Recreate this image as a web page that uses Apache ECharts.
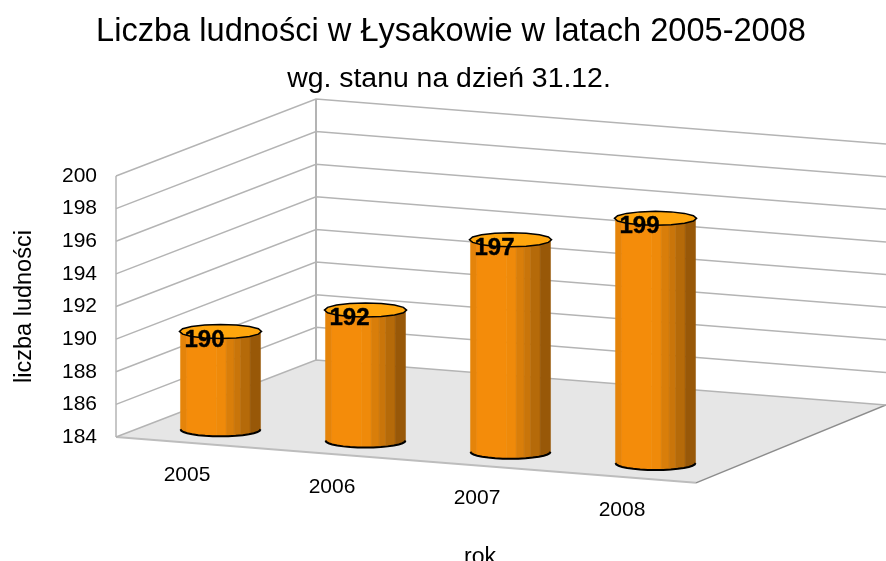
<!DOCTYPE html>
<html>
<head>
<meta charset="utf-8">
<style>html,body{margin:0;padding:0;background:#fff}#c{width:886px;height:561px}</style>
<script src="https://cdn.jsdelivr.net/npm/echarts@6/dist/echarts.min.js"></script>
</head>
<body>
<div id="c"></div>
<script>
const years = ['2005', '2006', '2007', '2008'];
const population = [190, 192, 197, 199];
const yTicks = [184, 186, 188, 190, 192, 194, 196, 198, 200];
const titleText = 'Liczba ludności w Łysakowie w latach 2005-2008';
const subtitleText = 'wg. stanu na dzień 31.12.';
const yName = 'liczba ludności';
const xName = 'rok';
const FONT = '"Liberation Sans", Arial, sans-serif';

// oblique projection settings
const SLOPE = 0.0775, FLOOR_SLOPE = 0.079, LABEL_SLOPE = 0.08, DEPTH_X = 200, DEPTH_Y = 77, BACK_RIGHT_X = 190, BAR_DX = 32, BAR_DY = 13.3;
const RX_RATIO = 0.276, RY = 7, GRID = {left: 116, top: 176, width: 580, height: 261, outerBoundsMode: 'none'};
const GREY = '#b4b4b4';
const stripes = [[0, .08, '#e5840a'], [.08, .45, '#f48c0a'], [.45, .57, '#ef8a0a'], [.57, .67, '#d97e0a'],
  [.67, .75, '#c9750a'], [.75, .87, '#b56a09'], [.87, 1, '#985808']];

const chart = echarts.init(document.getElementById('c'), null, {renderer: 'canvas'});

function ellipsePts(cx, cy, rx, ry, from, to, n) {
  const pts = [];
  for (let k = 0; k <= n; k++) {
    const a = from + (to - from) * k / n;
    pts.push([cx + rx * Math.cos(a), cy + ry * Math.sin(a)]);
  }
  return pts;
}
function backRight(y0) {
  const dx = GRID.width - DEPTH_X + BACK_RIGHT_X;
  return [GRID.left + DEPTH_X + dx, y0 - DEPTH_Y + dx * FLOOR_SLOPE];
}

const renderWall = (params, api) => {
  const v = api.value(1);
  const y0 = api.coord([0, v])[1];
  const l = GRID.left;
  const bl = [l + DEPTH_X, y0 - DEPTH_Y];
  return {type: 'group', children: [
    {type: 'polyline', shape: {points: [[l, y0], bl, backRight(y0)]}, style: {stroke: GREY, lineWidth: 1.5, fill: null}}
  ]};
};

const renderFrame = (params, api) => {
  const l = GRID.left, r = l + GRID.width;
  const top = api.coord([0, yTicks[yTicks.length - 1]])[1];
  const bot = api.coord([0, yTicks[0]])[1];
  const fl = [l, bot], bl = [l + DEPTH_X, bot - DEPTH_Y];
  const fr = [r, bot + GRID.width * FLOOR_SLOPE];
  const br = backRight(bot);
  return {type: 'group', children: [
    {type: 'polygon', shape: {points: [fl, bl, br, fr]}, style: {fill: '#e6e6e6', stroke: null}},
    {type: 'line', shape: {x1: l, y1: top, x2: l, y2: bot}, style: {stroke: GREY, lineWidth: 1.5}},
    {type: 'line', shape: {x1: bl[0], y1: top - DEPTH_Y, x2: bl[0], y2: bl[1]}, style: {stroke: GREY, lineWidth: 2}},
    {type: 'line', shape: {x1: fl[0], y1: fl[1], x2: fr[0], y2: fr[1]}, style: {stroke: '#bdbdbd', lineWidth: 2}},
    {type: 'line', shape: {x1: fr[0], y1: fr[1], x2: br[0], y2: br[1]}, style: {stroke: '#8c8c8c', lineWidth: 1.5}}
  ]};
};

const renderBar = (params, api) => {
  const i = api.value(0), v = api.value(1);
  const c = api.coord([i, v]);
  const base = api.coord([i, yTicks[0]]);
  const band = api.size([1, 0])[0];
  const rx = band * RX_RATIO;
  const cx = c[0] + BAR_DX;
  const shift = (c[0] - GRID.left) * SLOPE - BAR_DY;
  const yTop = c[1] + shift, yBot = base[1] + shift;
  const children = [];
  const bottomArc = ellipsePts(cx, yBot, rx, RY, 0, Math.PI, 16);
  stripes.forEach(s => {
    const x0 = cx - rx + 2 * rx * s[0], x1 = cx - rx + 2 * rx * s[1];
    const lowY = x => yBot + RY * Math.sqrt(Math.max(0, 1 - ((x - cx) / rx) ** 2));
    const pts = [[x0, yTop], [x1, yTop]];
    for (let k = 0; k <= 4; k++) { const x = x1 + (x0 - x1) * k / 4; pts.push([x, lowY(x)]); }
    children.push({type: 'polygon', shape: {points: pts}, style: {fill: s[2], stroke: s[2], lineWidth: 0.5}});
  });
  children.push({type: 'polyline', shape: {points: bottomArc}, style: {stroke: '#000', lineWidth: 2, fill: null}});
  children.push({type: 'polygon', shape: {points: ellipsePts(cx, yTop, rx + 1, RY, 0, 2 * Math.PI, 16)},
    style: {fill: '#ffa60d', stroke: '#000', lineWidth: 1.5}});
  children.push({type: 'text', style: {x: cx - 16, y: yTop + 8.5, text: String(v), fill: '#000', stroke: '#000', lineWidth: 0.4,
    font: 'bold 24px ' + FONT, textAlign: 'center', textVerticalAlign: 'middle'}});
  children.push({type: 'text', style: {x: c[0] - 1.5, y: base[1] + (c[0] - GRID.left) * LABEL_SLOPE + 32.5, text: years[i], fill: '#000',
    font: '21px ' + FONT, textAlign: 'center', textVerticalAlign: 'middle'}});
  return {type: 'group', children};
};

chart.setOption({
  animation: false,
  backgroundColor: '#fff',
  title: [
    {text: titleText, left: 446, top: 11, textAlign: 'center',
     textStyle: {fontFamily: FONT, fontSize: 32.6, fontWeight: 'normal', color: '#000'}},
    {text: subtitleText, left: 444, top: 60, textAlign: 'center',
     textStyle: {fontFamily: FONT, fontSize: 28.4, fontWeight: 'normal', color: '#000'}}
  ],
  grid: GRID,
  xAxis: {
    type: 'category', data: years,
    name: xName, nameLocation: 'middle', nameGap: 109,
    nameTextStyle: {fontFamily: FONT, fontSize: 23, color: '#000', padding: [0, 0, 0, 148]},
    axisLine: {show: false}, axisTick: {show: false}, axisLabel: {show: false}, splitLine: {show: false}
  },
  yAxis: {
    type: 'value', min: yTicks[0], max: yTicks[yTicks.length - 1], interval: 2,
    name: yName, nameLocation: 'middle', nameGap: 79, nameRotate: 90,
    nameTextStyle: {fontFamily: FONT, fontSize: 23.5, color: '#000'},
    axisLine: {show: false}, axisTick: {show: false}, splitLine: {show: false},
    axisLabel: {fontFamily: FONT, fontSize: 21, color: '#000', margin: 19}
  },
  series: [
    {type: 'custom', name: 'frame', z: 1, clip: false, silent: true, renderItem: renderFrame,
     data: [[0, yTicks[0]]], encode: {x: 0, y: 1}},
    {type: 'custom', name: 'walls', z: 2, clip: false, silent: true, renderItem: renderWall,
     data: yTicks.map(t => [0, t]), encode: {x: 0, y: 1}},
    {type: 'custom', name: 'population', z: 3, clip: false, renderItem: renderBar,
     data: population.map((v, i) => [i, v]), encode: {x: 0, y: 1}}
  ]
});
</script>
</body>
</html>
